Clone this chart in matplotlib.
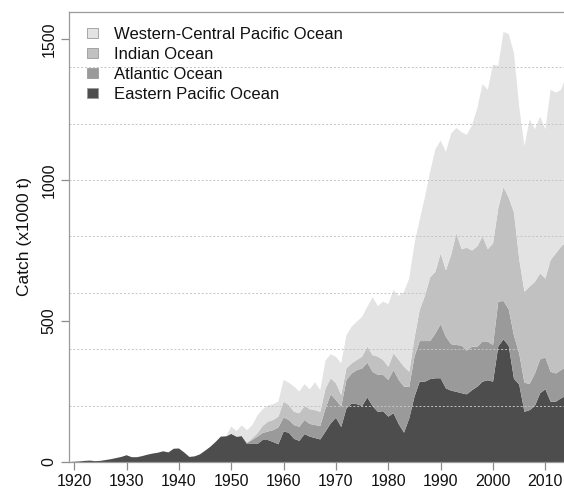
import numpy as np
import matplotlib
matplotlib.use("Agg")
import matplotlib.pyplot as plt
from matplotlib.patches import Patch

years = list(range(1919, 2015))

eastern_pacific = [
    0, 1, 2, 4, 5, 3, 4, 7, 10, 14, 18, 24, 17, 17, 21, 26, 30, 33, 38, 34,
    47, 48, 34, 18, 20, 27, 40, 54, 71, 90, 91, 100, 90, 92, 64, 64, 64, 78, 78, 71,
    63, 108, 104, 82, 75, 99, 90, 85, 80, 108, 137, 157, 124, 190, 208, 205, 199, 229, 198, 178,
    180, 161, 173, 134, 104, 155, 232, 285, 285, 294, 297, 297, 261, 253, 249, 244, 240, 255, 267, 285,
    290, 285, 410, 435, 412, 295, 275, 178, 184, 199, 244, 258, 214, 214, 226, 235]

atlantic = [0] * 34 + [
    4, 14, 26, 25, 30, 42, 60, 50, 45, 49, 50, 50, 45, 46, 48, 82, 103, 63, 72, 101,
    106, 121, 133, 123, 122, 131, 129, 130, 153, 157, 163, 112, 142, 144, 144, 135, 159, 192, 183, 165,
    166, 169, 155, 154, 142, 143, 137, 130, 159, 136, 130, 153, 110, 103, 93, 115, 120, 113, 106, 100,
    100, 103]

indian = [0] * 35 + [
    6, 12, 25, 35, 36, 38, 56, 53, 47, 48, 50, 52, 53, 50, 70, 57, 59, 42, 41, 36,
    36, 42, 57, 59, 65, 53, 47, 59, 71, 71, 53, 66, 111, 161, 226, 219, 251, 236, 317, 396,
    342, 365, 341, 356, 372, 328, 360, 331, 404, 396, 437, 335, 323, 345, 325, 305, 280, 396, 426, 438,
    442]

western_central_pacific = [0] * 31 + [
    26, 20, 38, 45, 46, 63, 59, 57, 56, 53, 77, 79, 89, 77, 77, 71, 99, 77, 100, 85,
    94, 112, 118, 130, 136, 141, 142, 205, 179, 207, 222, 225, 227, 266, 331, 335, 320, 350, 375, 435,
    400, 420, 430, 374, 415, 400, 445, 490, 540, 565, 635, 505, 550, 580, 565, 540, 516, 593, 541, 556,
    529, 604, 570, 556, 590]

series_names = ["Eastern Pacific Ocean", "Atlantic Ocean", "Indian Ocean",
                "Western-Central Pacific Ocean"]
colors = ["#4d4d4d", "#9a9a9a", "#c1c1c1", "#e3e3e3"]

x_ticks = list(range(1920, 2020, 10))
y_ticks = [0, 500, 1000, 1500]
grid_levels = [200, 400, 600, 800, 1000, 1200, 1400]

plt.rcParams["font.family"] = ["Liberation Sans", "DejaVu Sans"]

W, H = 564, 491
fig = plt.figure(figsize=(W / 100, H / 100), dpi=100)
ax_left, ax_top, ax_bottom = 69, 12, 462
px_per_year = 5.235
x0, x1 = 1919.0, 2015.0
ax_w = (x1 - x0) * px_per_year
ax = fig.add_axes([ax_left / W, (H - ax_bottom) / H, ax_w / W, (ax_bottom - ax_top) / H])

ax.stackplot(years, eastern_pacific, atlantic, indian, western_central_pacific,
             colors=colors, linewidth=0, zorder=1)

for g in grid_levels:
    ax.axhline(g, color="#c4c4c4", linestyle=(0, (2, 2)), linewidth=0.7, zorder=2)

ax.set_xlim(x0, x1)
ax.set_ylim(0, 1596)
ax.set_xticks(x_ticks)
ax.set_yticks(y_ticks)
ax.set_yticklabels([str(v) for v in y_ticks], rotation=90, va="center")
ax.tick_params(axis="both", direction="out", length=6, width=0.9, color="#8c8c8c",
               labelsize=11.5, labelcolor="#111111", pad=3)
for s in ax.spines.values():
    s.set_color("#9a9a9a")
    s.set_linewidth(0.9)

ax.set_ylabel("Catch (x1000 t)", fontsize=12.5, color="#111111", labelpad=7)

handles = [Patch(facecolor=colors[i], edgecolor="#9a9a9a", linewidth=0.6) for i in [3, 2, 1, 0]]
labels = [series_names[i] for i in [3, 2, 1, 0]]
leg = ax.legend(handles, labels, loc="upper left", bbox_to_anchor=(0.012, 0.993),
                frameon=False, fontsize=12, handlelength=0.66, handleheight=0.5,
                handletextpad=0.95, labelspacing=0.3, borderaxespad=0.3)
for t in leg.get_texts():
    t.set_color("#111111")

fig.savefig("out.png", dpi=100)
